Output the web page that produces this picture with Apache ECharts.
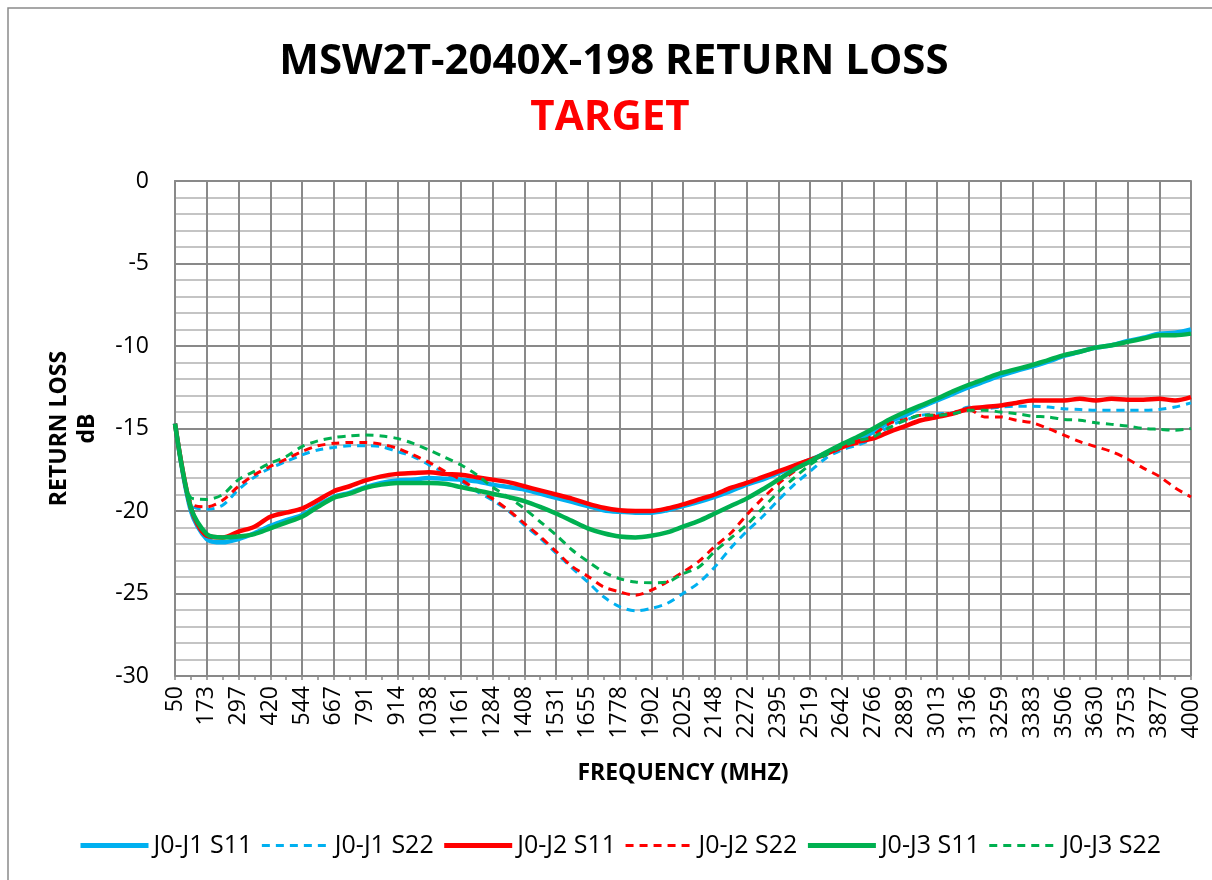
<!DOCTYPE html>
<html>
<head>
<meta charset="utf-8">
<script src="https://cdn.jsdelivr.net/npm/echarts@6/dist/echarts.min.js"></script>
<style>
  html, body { margin: 0; padding: 0; background: #fff; }
  #chart { width: 1212px; height: 880px; }
</style>
</head>
<body>
<div id="chart"></div>
<script>
// axis labels (MHz), one every 25 measurement points
const tickLabels = ['50', '173', '297', '420', '544', '667', '791', '914', '1038', '1161', '1284',
    '1408', '1531', '1655', '1778', '1902', '2025', '2148', '2272', '2395', '2519', '2642',
    '2766', '2889', '3013', '3136', '3259', '3383', '3506', '3630', '3753', '3877', '4000'];

// readings (dB) at every half label step: 65 points from 50 to 4000 MHz
const j1s11 = [-14.7, -20.0, -21.7, -21.9, -21.7, -21.35, -20.9, -20.55, -20.25, -19.65, -19.15,
    -18.9, -18.55, -18.3, -18.15, -18.1, -18.0, -18.05, -18.1, -18.2, -18.4, -18.55, -18.7,
    -18.95, -19.2, -19.45, -19.7, -19.95, -20.05, -20.1, -20.1, -19.95, -19.7, -19.45, -19.15,
    -18.8, -18.4, -18.1, -17.7, -17.3, -16.9, -16.5, -16.05, -15.7, -15.2, -14.6, -14.2, -13.7,
    -13.3, -12.9, -12.5, -12.15, -11.8, -11.5, -11.25, -10.95, -10.6, -10.35, -10.1, -9.95,
    -9.7, -9.5, -9.25, -9.2, -9.0];
const j1s22 = [-14.8, -19.6, -19.9, -19.65, -18.7, -17.95, -17.4, -17.0, -16.6, -16.3, -16.15,
    -16.05, -16.05, -16.1, -16.4, -16.7, -17.2, -17.7, -18.2, -18.8, -19.35, -20.0, -20.85,
    -21.65, -22.55, -23.45, -24.3, -25.2, -25.8, -26.05, -25.9, -25.6, -25.0, -24.35, -23.4,
    -22.25, -21.25, -20.35, -19.35, -18.4, -17.6, -16.8, -16.3, -16.0, -15.6, -14.85, -14.5,
    -14.2, -14.1, -14.05, -13.7, -13.8, -13.7, -13.65, -13.65, -13.7, -13.8, -13.85, -13.9,
    -13.9, -13.9, -13.9, -13.85, -13.7, -13.45];
const j2s11 = [-14.7, -19.8, -21.5, -21.6, -21.25, -20.95, -20.35, -20.1, -19.85, -19.35, -18.8,
    -18.5, -18.15, -17.9, -17.75, -17.7, -17.65, -17.75, -17.8, -17.95, -18.1, -18.25, -18.5,
    -18.75, -19.0, -19.25, -19.55, -19.8, -19.95, -20.0, -20.0, -19.85, -19.6, -19.3, -19.0,
    -18.6, -18.3, -17.95, -17.6, -17.25, -16.9, -16.55, -16.15, -15.8, -15.6, -15.2, -14.85,
    -14.5, -14.3, -14.1, -13.8, -13.7, -13.6, -13.45, -13.3, -13.3, -13.3, -13.2, -13.3, -13.2,
    -13.25, -13.25, -13.2, -13.3, -13.1];
const j2s22 = [-14.8, -19.5, -19.75, -19.35, -18.5, -17.8, -17.3, -16.85, -16.4, -16.05, -15.9,
    -15.85, -15.85, -15.95, -16.2, -16.6, -17.05, -17.6, -18.1, -18.7, -19.25, -19.95, -20.75,
    -21.55, -22.45, -23.35, -23.95, -24.6, -24.9, -25.1, -24.8, -24.3, -23.7, -23.05, -22.15,
    -21.35, -20.25, -19.25, -18.35, -17.6, -17.0, -16.5, -16.1, -15.9, -15.4, -14.7, -14.45,
    -14.2, -14.2, -14.05, -13.85, -14.3, -14.3, -14.5, -14.65, -15.0, -15.4, -15.8, -16.1,
    -16.4, -16.85, -17.4, -17.9, -18.6, -19.15];
const j3s11 = [-14.7, -19.8, -21.4, -21.6, -21.55, -21.4, -21.05, -20.7, -20.35, -19.75, -19.2,
    -18.95, -18.6, -18.4, -18.3, -18.3, -18.3, -18.35, -18.55, -18.75, -18.95, -19.15, -19.4,
    -19.75, -20.15, -20.6, -21.05, -21.35, -21.55, -21.6, -21.5, -21.3, -20.95, -20.6, -20.15,
    -19.7, -19.25, -18.7, -18.1, -17.5, -17.0, -16.45, -15.95, -15.5, -15.0, -14.45, -14.0,
    -13.6, -13.2, -12.75, -12.35, -12.0, -11.65, -11.4, -11.15, -10.85, -10.55, -10.35, -10.1,
    -9.95, -9.75, -9.55, -9.35, -9.35, -9.25];
const j3s22 = [-14.8, -19.2, -19.3, -19.0, -18.1, -17.6, -17.1, -16.7, -16.1, -15.75, -15.55,
    -15.45, -15.4, -15.45, -15.6, -15.9, -16.3, -16.75, -17.2, -17.8, -18.55, -19.15, -19.85,
    -20.65, -21.45, -22.35, -23.05, -23.7, -24.1, -24.3, -24.35, -24.3, -23.8, -23.4, -22.45,
    -21.65, -20.85, -19.85, -18.85, -18.0, -17.2, -16.6, -16.1, -15.75, -15.5, -14.95, -14.5,
    -14.2, -14.2, -14.1, -13.9, -13.9, -14.0, -14.1, -14.25, -14.3, -14.45, -14.5, -14.65,
    -14.75, -14.85, -15.0, -15.05, -15.1, -15.0];

const seriesNames = ['J0-J1 S11', 'J0-J1 S22', 'J0-J2 S11', 'J0-J2 S22', 'J0-J3 S11', 'J0-J3 S22'];
const seriesData = [j1s11, j1s22, j2s11, j2s22, j3s11, j3s22];
const colors = ['#00B0F0', '#00B0F0', '#FF0000', '#FF0000', '#00B050', '#00B050'];

// categories: each label, then the half step after it
const categories = [];
tickLabels.forEach((t, i) => {
    categories.push(t);
    if (i < tickLabels.length - 1) {
        categories.push(String(Math.round((+t + +tickLabels[i + 1]) / 2)));
    }
});

const font = 'Open Sans';
const gridColor = '#898989';

const series = seriesData.map((d, i) => {
    const dashed = i % 2 === 1;
    return {
        name: seriesNames[i],
        type: 'line',
        data: d,
        symbol: 'none',
        smooth: 0.3,
        lineStyle: {
            color: colors[i],
            width: dashed ? 3 : 4.5,
            type: dashed ? [8, 6] : 'solid'
        },
        itemStyle: { color: colors[i] }
    };
});

// legend entries: thicker sample lines like the original key
const legendData = seriesNames.map((n, i) => ({
    name: n,
    lineStyle: { width: i % 2 === 1 ? 3 : 5 }
}));

const myChart = echarts.init(document.getElementById('chart'));
myChart.setOption({
    animation: false,
    color: colors,
    graphic: [
        {
            type: 'rect', silent: true,
            shape: { x: 8, y: 8, width: 1400, height: 1000 },
            style: { fill: 'none', stroke: '#8a8a8a', lineWidth: 1.5 }
        },
        {
            type: 'text', x: 614, y: 62,
            style: {
                text: 'MSW2T-2040X-198 RETURN LOSS', fill: '#000',
                font: 'bold 42px "Open Sans"', align: 'center', verticalAlign: 'middle'
            }
        },
        {
            type: 'text', x: 610, y: 118,
            style: {
                text: 'TARGET', fill: '#FF0000',
                font: 'bold 42px "Open Sans"', align: 'center', verticalAlign: 'middle'
            }
        }
    ],
    legend: {
        left: 73,
        top: 828,
        itemWidth: 68,
        itemHeight: 14,
        itemGap: 8,
        itemStyle: { opacity: 0 },
        textStyle: { fontFamily: font, fontSize: 25, color: '#000' },
        data: legendData
    },
    grid: { left: 175, right: 21, top: 181, bottom: 204 },
    xAxis: [
        {
            type: 'category',
            data: categories,
            boundaryGap: false,
            name: 'FREQUENCY (MHZ)',
            nameLocation: 'middle',
            nameGap: 86,
            nameTextStyle: { fontFamily: font, fontSize: 23, fontWeight: 'bold', color: '#000' },
            axisLine: { lineStyle: { color: gridColor, width: 2 } },
            axisTick: { interval: 1, length: 8, lineStyle: { color: gridColor, width: 1.5 } },
            axisLabel: {
                interval: 1, rotate: 90, margin: 10,
                fontFamily: font, fontSize: 23, color: '#000'
            },
            splitLine: { show: true, interval: 1, lineStyle: { color: gridColor, width: 2 } }
        },
        {
            type: 'category',
            data: categories,
            boundaryGap: false,
            position: 'bottom',
            axisLine: { show: false },
            axisTick: { interval: 0, length: 4, lineStyle: { color: gridColor, width: 1.5 } },
            axisLabel: { show: false },
            splitLine: { show: false }
        }
    ],
    yAxis: {
        type: 'value',
        min: -30,
        max: 0,
        interval: 5,
        name: 'RETURN LOSS\ndB',
        nameLocation: 'middle',
        nameRotate: 90,
        nameGap: 74,
        nameTextStyle: { fontFamily: font, fontSize: 23, fontWeight: 'bold', color: '#000', lineHeight: 28 },
        axisLine: { show: true, lineStyle: { color: gridColor, width: 2 } },
        axisTick: { show: false },
        axisLabel: { margin: 26, fontFamily: font, fontSize: 23, color: '#000' },
        splitLine: { lineStyle: { color: gridColor, width: 2 } },
        minorTick: { show: false, splitNumber: 5 },
        minorSplitLine: { show: true, lineStyle: { color: '#c4c4c4', width: 2 } }
    },
    series: series
});
</script>
</body>
</html>
